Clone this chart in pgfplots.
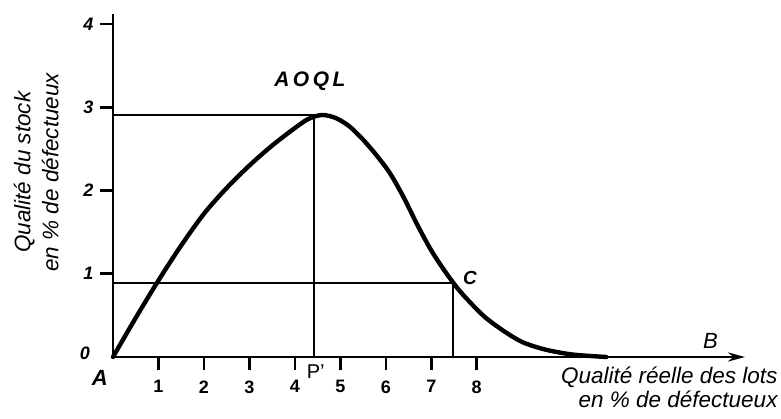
\documentclass[border=0pt]{standalone}
\usepackage{fontspec}
\setmainfont{Liberation Sans}
\usepackage{pgfplots}
\pgfplotsset{compat=1.18}
\usetikzlibrary{arrows.meta}
\begin{document}
\begin{tikzpicture}
\useasboundingbox (-113pt,-62pt) rectangle (668pt,357pt);
\begin{axis}[
  at={(0pt,0pt)}, anchor=origin,
  scale only axis, width=632pt, height=343pt,
  xmin=0, xmax=13.9, ymin=0, ymax=4.12,
  axis x line*=bottom, axis y line*=left,
  axis line style={line width=2.6pt},
  x axis line style={-{Stealth[length=17pt,width=9pt]}},
  xtick={1,...,8}, ytick={1,...,4},
  tick align=outside, major tick length=13pt,
  tick style={line width=2.6pt, black},
  /pgf/number format/assume math mode=true,
  xticklabel style={font=\fontsize{18}{18}\selectfont\bfseries, yshift=-7pt},
  yticklabel style={font=\fontsize{18}{18}\selectfont\bfseries\itshape, xshift=-3pt},
  clip=false,
]
\addplot[line width=2pt] coordinates {(0,2.907) (4.42,2.907) (4.42,0)};
\addplot[line width=2pt] coordinates {(0,0.893) (7.48,0.893) (7.48,0)};
\addplot[line width=4.4pt, smooth, tension=0.5, line cap=round] coordinates {
(0.0,0.000) (0.5,0.47) (1.0,0.92) (1.5,1.34) (2.0,1.72) (2.5,2.03)
(3.0,2.30) (3.5,2.54) (4.0,2.75) (4.3,2.86) (4.6,2.907) (4.9,2.87)
(5.2,2.77) (5.5,2.61) (5.8,2.42) (6.1,2.20) (6.4,1.91) (6.7,1.58)
(7.0,1.28) (7.3,1.03) (7.6,0.81) (7.9,0.63) (8.2,0.47) (8.6,0.31)
(9.0,0.18) (9.5,0.09) (10.1,0.03) (10.85,0.0)
};
\node[font=\fontsize{21}{24}\selectfont\itshape\bfseries] at (axis cs:4.33,3.315) {A\,O\,Q\,L};
\node[font=\fontsize{19}{24}\selectfont\itshape\bfseries] at (axis cs:7.85,0.95) {C};
\node[font=\fontsize{22}{24}\selectfont\itshape] at (axis cs:13.14,0.19) {B};
\node[font=\fontsize{22}{24}\selectfont\itshape\bfseries] at (axis cs:-0.29,-0.25) {A};
\node[font=\fontsize{18}{18}\selectfont\itshape\bfseries] at (axis cs:-0.62,0.05) {0};
\node[font=\fontsize{20}{24}\selectfont] at (axis cs:4.46,-0.18) {P'};
\node[font=\fontsize{22.5}{24}\selectfont\itshape, align=right, anchor=north east, inner sep=0pt] at (axis cs:14.62,-0.12) {Qualité réelle des lots\\en \% de défectueux};
\node[font=\fontsize{22.5}{28}\selectfont\itshape, align=center, rotate=90] at (axis cs:-1.69,2.22) {Qualité du stock\\en \% de défectueux};
\end{axis}
\end{tikzpicture}
\end{document}
